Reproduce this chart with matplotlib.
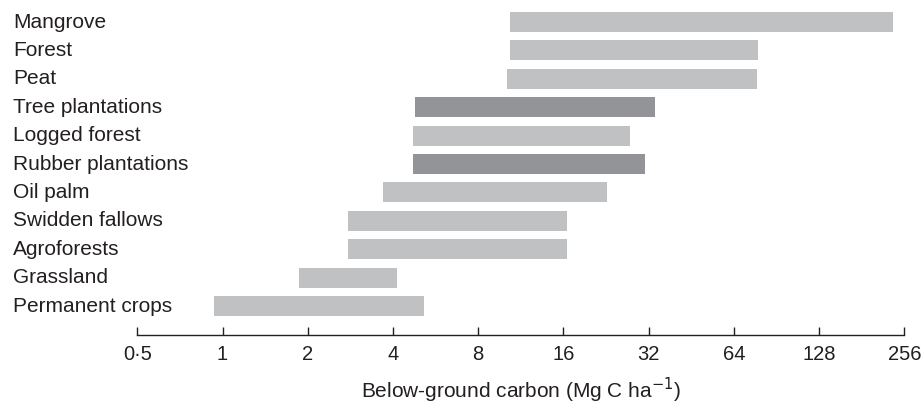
# Below-ground carbon ranges by land cover (floating bars, log2 axis)

import matplotlib
matplotlib.use("Agg")
from matplotlib import pyplot as plt
from matplotlib import transforms

# --- DATA (top to bottom) ---
land_covers = ["Mangrove", "Forest", "Peat", "Tree plantations", "Logged forest",
               "Rubber plantations", "Oil palm", "Swidden fallows", "Agroforests",
               "Grassland", "Permanent crops"]
carbon_low = [10.4, 10.35, 10.1, 4.8, 4.7, 4.7, 3.7, 2.77, 2.77, 1.86, 0.93]
carbon_high = [233, 77.7, 77.1, 33.7, 27.5, 31.1, 22.8, 16.5, 16.5, 4.13, 5.15]
dark_rows = ["Tree plantations", "Rubber plantations"]

tick_values = [0.5, 1, 2, 4, 8, 16, 32, 64, 128, 256]
tick_labels = ["0·5", "1", "2", "4", "8", "16", "32", "64", "128", "256"]

light = "#c0c1c3"
dark = "#939498"
ink = "#231f20"

plt.rcParams['font.family'] = ['Liberation Sans', 'DejaVu Sans']

fig = plt.figure(figsize=(9.22, 4.05), dpi=100)
ax = fig.add_axes([0.1489, 0.1728, 0.8319, 0.8272])

n = len(land_covers)
ypos = [n - 1 - i for i in range(n)]

for i in range(n):
	col = dark if land_covers[i] in dark_rows else light
	ax.barh(ypos[i], carbon_high[i] - carbon_low[i], left=carbon_low[i],
		height=0.70, color=col, edgecolor='none')

# row labels at the left edge of the figure
trans = transforms.blended_transform_factory(fig.transFigure, ax.transData)
for i in range(n):
	ax.text(13 / 922, ypos[i], land_covers[i], transform=trans, ha='left',
		va='center', fontsize=15, color=ink)

ax.set_xscale('log', base=2)
ax.set_xlim(0.5, 256)
ax.set_ylim(-1.02, n - 1 + 0.775)

ax.set_xticks(tick_values)
ax.set_xticklabels(tick_labels)
ax.minorticks_off()
ax.tick_params(axis='x', direction='in', length=6, width=1, colors=ink,
	labelsize=14.5, pad=7)
ax.set_yticks([])

for s in ['top', 'right', 'left']:
	ax.spines[s].set_visible(False)
ax.spines['bottom'].set_color(ink)
ax.spines['bottom'].set_linewidth(1)

ax.set_xlabel("Below-ground carbon (Mg C ha$^{-1}$)", fontsize=15, color=ink,
	labelpad=9)

fig.patch.set_facecolor('w')
fig.savefig("out.png", dpi=100)
